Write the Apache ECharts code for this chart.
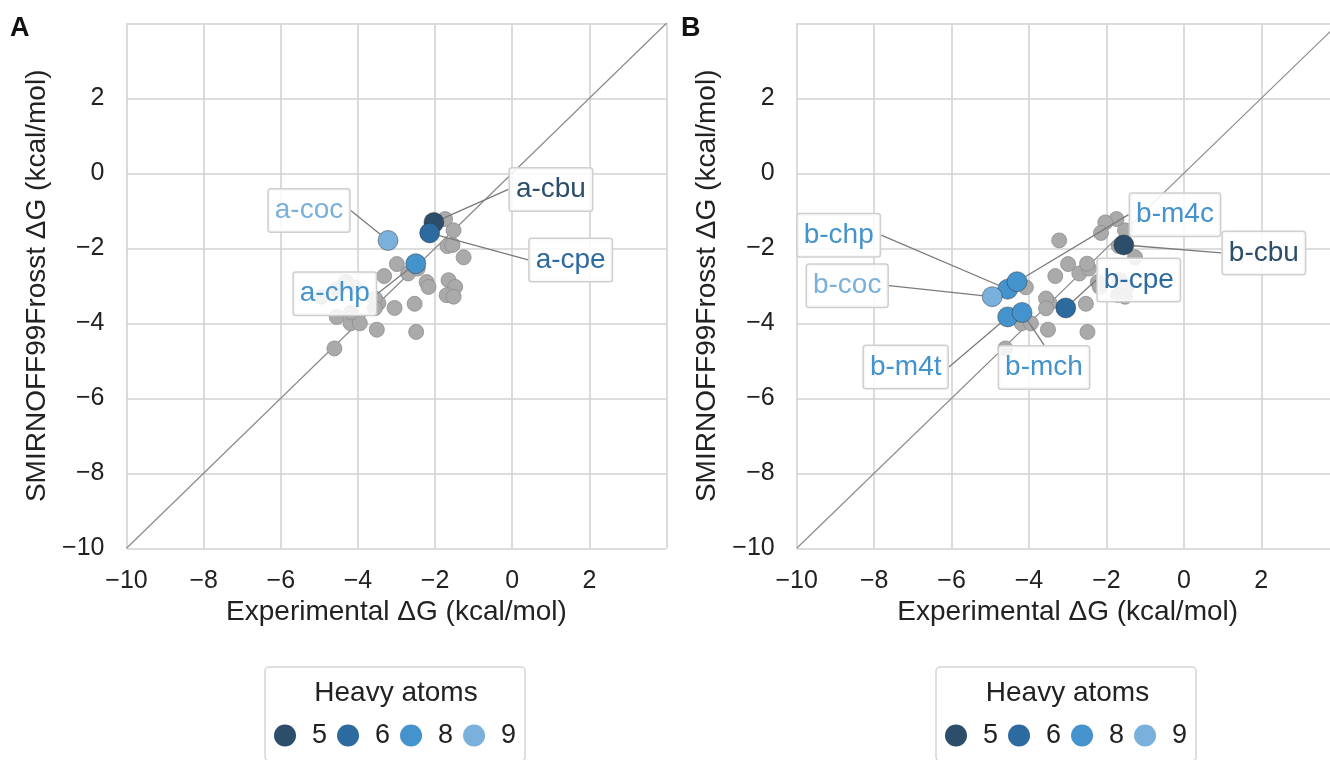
<!DOCTYPE html>
<html>
<head>
<meta charset="utf-8">
<script src="https://cdn.jsdelivr.net/npm/echarts@6/dist/echarts.min.js"></script>
<style>
	html, body { margin: 0; padding: 0; background: #fff; }
	#chart { width: 1330px; height: 760px; }
</style>
</head>
<body>
<div id="chart"></div>
<script>
// systems that get a label in panel A (a-*) or panel B (b-*)
const labelNames = ["a-cbu", "a-cpe", "a-chp", "a-coc", "b-cbu", "b-cpe", "b-chp", "b-m4c", "b-m4t", "b-mch", "b-coc"];
const labelExp = [-2.03, -2.14, -2.50, -3.22, -1.55, -3.05, -4.55, -4.31, -4.55, -4.18, -4.95];
const labelCalc = [-1.31, -1.59, -2.41, -1.79, -1.91, -3.59, -3.09, -2.89, -3.83, -3.71, -3.29];
const labelAtoms = ["5", "6", "8", "9", "5", "6", "8", "8", "8", "8", "9"];

// the rest of the set, always grey
const otherExp = [-1.74, -1.52, -1.68, -1.26, -2.70, -3.32, -2.99, -2.45, -2.22, -2.17, -1.65, -1.48,
	-1.70, -1.52, -3.47, -2.53, -4.19, -3.95, -3.51, -2.49, -4.61, -4.08, -3.56, -3.56];
const otherCalc = [-1.22, -1.52, -1.94, -2.24, -2.67, -2.74, -2.42, -2.54, -2.90, -3.03, -2.85, -3.03,
	-3.25, -3.29, -3.46, -3.48, -4.00, -4.00, -4.17, -4.23, -4.67, -3.04, -3.34, -3.60];

const atomCounts = ["5", "6", "8", "9"];
const atomColors = ["#2d4e6b", "#2c6aa0", "#4493cc", "#7ab0dc"];
const axisRange = [-10, 4];
const tickStep = 2;

// where each label box sits relative to its point (px)
const labelOffset = {
	"a-coc": [-79, -30], "a-cbu": [117, -33], "a-cpe": [141, 27], "a-chp": [-81, 30],
	"b-chp": [-169, -54], "b-coc": [-145, -11], "b-m4c": [158, -67], "b-cbu": [140, 8],
	"b-cpe": [73, -28], "b-m4t": [-102, 50], "b-mch": [22, 55]
};

const FONT = "'Liberation Sans', Arial, Helvetica, sans-serif";
const panelLeft = [126.5, 796.7];
const panelWidth = [540, 542];

function fmt(v) {
	if (v >= axisRange[1]) return "";
	return v < 0 ? "\u2212" + Math.abs(v) : String(v);
}

const grids = [];
const xAxes = [];
const yAxes = [];
const series = [];

["a", "b"].forEach((prefix, p) => {
	grids.push({left: panelLeft[p], top: 23.3, width: panelWidth[p], height: 525, outerBoundsMode: "none", containLabel: false});
	xAxes.push({
		type: "value", gridIndex: p, min: axisRange[0], max: axisRange[1], interval: tickStep,
		name: "Experimental \u0394G (kcal/mol)", nameLocation: "middle", nameGap: 47,
		nameTextStyle: {fontSize: 28, color: "#222", fontFamily: FONT},
		axisLine: {show: false}, axisTick: {show: false},
		axisLabel: {fontSize: 25, color: "#222", margin: 20, fontFamily: FONT, formatter: fmt},
		splitLine: {lineStyle: {color: "#d2d2d2", width: 1.6}}
	});
	yAxes.push({
		type: "value", gridIndex: p, min: axisRange[0], max: axisRange[1], interval: tickStep,
		name: "SMIRNOFF99Frosst \u0394G (kcal/mol)", nameLocation: "middle", nameGap: 75,
		nameTextStyle: {fontSize: 28, color: "#222", fontFamily: FONT},
		axisLine: {show: false}, axisTick: {show: false},
		axisLabel: {fontSize: 25, color: "#222", margin: 22, fontFamily: FONT, formatter: fmt},
		splitLine: {lineStyle: {color: "#d2d2d2", width: 1.6}}
	});

	// y = x reference
	series.push({
		type: "line", xAxisIndex: p, yAxisIndex: p, silent: true, symbol: "none", z: 1,
		data: [[axisRange[0], axisRange[0]], [axisRange[1], axisRange[1]]],
		lineStyle: {color: "#8a8a8a", width: 1.2}
	});

	// grey background points
	const grey = otherExp.map((x, i) => [x, otherCalc[i]]);
	labelNames.forEach((n, i) => {
		if (n[0] !== prefix) grey.push([labelExp[i], labelCalc[i]]);
	});
	series.push({
		type: "scatter", xAxisIndex: p, yAxisIndex: p, z: 2, symbolSize: 15, data: grey,
		itemStyle: {color: "#aaaaaa", borderColor: "#8d8d8d", borderWidth: 0.8, opacity: 1}
	});

	atomCounts.forEach((a, k) => {
		const data = [];
		labelNames.forEach((n, i) => {
			if (n[0] === prefix && labelAtoms[i] === a) data.push({name: n, value: [labelExp[i], labelCalc[i]]});
		});
		series.push({
			name: a, type: "scatter", xAxisIndex: p, yAxisIndex: p, z: 3, symbolSize: 20, data: data,
			itemStyle: {color: atomColors[k], borderColor: "rgba(40,40,40,0.55)", borderWidth: 0.8, opacity: 1},
			label: {
				show: true, position: "inside", formatter: "{b}", fontSize: 28, lineHeight: 30,
				fontFamily: FONT, color: atomColors[k],
				backgroundColor: "rgba(255,255,255,0.85)", borderColor: "#cfcfcf", borderWidth: 1.5,
				borderRadius: 2, padding: [6, 6, 6, 6]
			},
			labelLine: {show: true, lineStyle: {color: "#7a7a7a", width: 1.3}},
			labelLayout: (params) => {
				const off = labelOffset[data[params.dataIndex].name];
				return {dx: off[0], dy: off[1]};
			}
		});
	});
});

const legendBox = {
	data: atomCounts, top: 667, orient: "horizontal", icon: "circle",
	itemWidth: 22, itemHeight: 22, itemGap: 10,
	padding: [55, 9, 12, 9], borderColor: "#d5d5d5", borderWidth: 1.5, borderRadius: 4,
	itemStyle: {borderWidth: 0},
	textStyle: {fontSize: 27, color: "#222", fontFamily: FONT, padding: [0, 0, 0, 11]},
	selectedMode: false
};

const option = {
	backgroundColor: "#fff",
	animation: false,
	grid: grids,
	xAxis: xAxes,
	yAxis: yAxes,
	legend: [
		Object.assign({}, legendBox, {left: 265}),
		Object.assign({}, legendBox, {left: 936})
	],
	graphic: [
		{type: "text", x: 10, y: 15, style: {text: "A", fontSize: 27, fontWeight: "bold", fill: "#111", fontFamily: FONT}},
		{type: "text", x: 681, y: 15, style: {text: "B", fontSize: 27, fontWeight: "bold", fill: "#111", fontFamily: FONT}},
		{type: "text", x: 396, y: 679, style: {text: "Heavy atoms", fontSize: 28, fill: "#222", fontFamily: FONT, align: "center"}},
		{type: "text", x: 1067.5, y: 679, style: {text: "Heavy atoms", fontSize: 28, fill: "#222", fontFamily: FONT, align: "center"}}
	],
	series: series
};

const myChart = echarts.init(document.getElementById("chart"));
myChart.setOption(option);
</script>
</body>
</html>
